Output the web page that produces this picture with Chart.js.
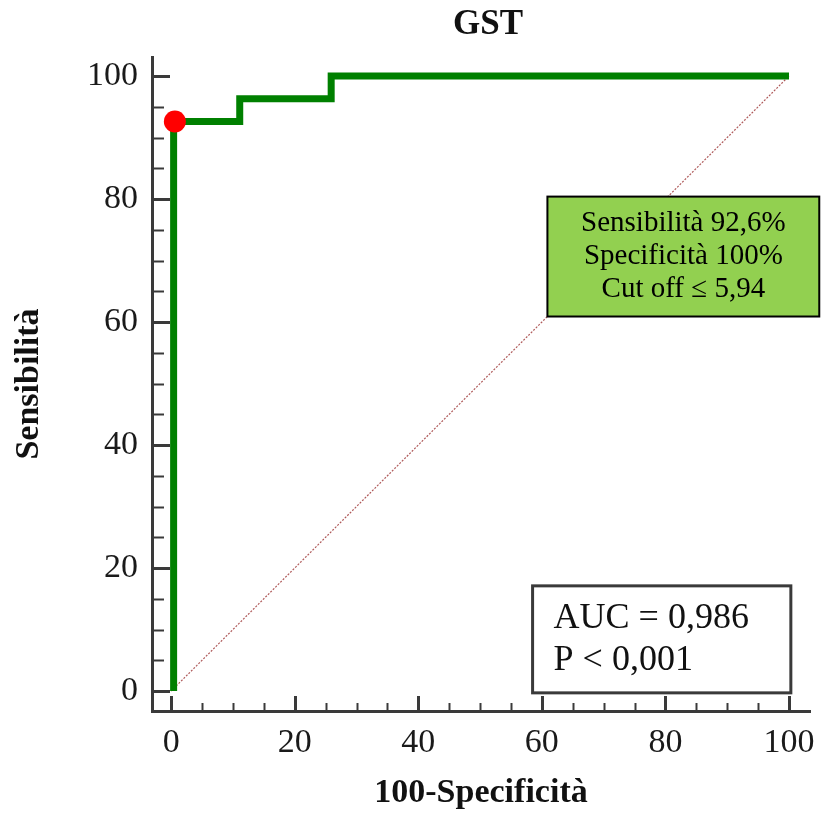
<!DOCTYPE html>
<html>
<head>
<meta charset="utf-8">
<title>GST</title>
<script src="https://cdn.jsdelivr.net/npm/chart.js@4/dist/chart.umd.min.js"></script>
<style>
  html, body { margin: 0; padding: 0; background: #fff; }
  #chart { display: block; }
</style>
</head>
<body>
<canvas id="chart" width="822" height="817"></canvas>
<script>
// ============================================================
// Data (ROC curve, GST)
// ============================================================

const chartTitle = 'GST';
const xTitle = '100-Specificità';
const yTitle = 'Sensibilità';

// ROC corners (100-Specificità, Sensibilità), drawn as a step line
const rocX = [0.4, 0.4, 11.1, 25.9, 100];
const rocY = [0, 92.6, 96.3, 100, 100];

// optimal cut-off point
const cutX = [0.6];
const cutY = [92.6];

// reference diagonal
const diagX = [0, 100];
const diagY = [0, 100];

const majorTicks = [0, 20, 40, 60, 80, 100];
const minorStep = 5;

const cutoffLines = ['Sensibilità 92,6%', 'Specificità 100%', 'Cut off \u2264 5,94'];
const aucLines = ['AUC = 0,986', 'P < 0,001'];

// ============================================================
// Helpers
// ============================================================

const SERIF = '"Liberation Serif", "Times New Roman", serif';
const AXIS_COLOR = '#3a3a3a';

function toPoints(xs, ys) {
    return xs.map((x, i) => ({ x: x, y: ys[i] }));
}

function buildTicks(scale) {
    const out = [];
    for (let i = 0; i < majorTicks.length - 1; i++) {
        for (let v = majorTicks[i]; v < majorTicks[i + 1]; v += minorStep) {
            out.push({ value: v, major: v === majorTicks[i] });
        }
    }
    out.push({ value: majorTicks[majorTicks.length - 1], major: true });
    scale.ticks = out;
}

function tickLabel(value) {
    return majorTicks.includes(value) ? String(value) : '';
}

// inward tick marks, as in the original plot
const innerTicks = {
    id: 'innerTicks',
    beforeDatasetsDraw(chart) {
        const ctx = chart.ctx;
        const area = chart.chartArea;
        const xs = chart.scales.x;
        const ys = chart.scales.y;
        ctx.save();
        ctx.strokeStyle = AXIS_COLOR;
        xs.ticks.forEach(t => {
            const px = Math.round(xs.getPixelForValue(t.value)) + 0.5;
            const len = t.major ? 15 : 8;
            ctx.lineWidth = t.major ? 3 : 2;
            ctx.beginPath();
            ctx.moveTo(px, area.bottom);
            ctx.lineTo(px, area.bottom - len);
            ctx.stroke();
        });
        ys.ticks.forEach(t => {
            const py = Math.round(ys.getPixelForValue(t.value)) + 0.5;
            const len = t.major ? 18 : 12;
            ctx.lineWidth = t.major ? 3 : 2;
            ctx.beginPath();
            ctx.moveTo(area.left, py);
            ctx.lineTo(area.left + len, py);
            ctx.stroke();
        });
        ctx.restore();
    }
};

// title plus the two text boxes
const annotations = {
    id: 'annotations',
    afterDatasetsDraw(chart) {
        const ctx = chart.ctx;
        const area = chart.chartArea;
        const xs = chart.scales.x;
        const ys = chart.scales.y;
        ctx.save();

        // title
        ctx.fillStyle = '#111';
        ctx.font = 'bold 35px ' + SERIF;
        ctx.textAlign = 'center';
        ctx.textBaseline = 'middle';
        ctx.fillText(chartTitle, (area.left + area.right) / 2 + 7, 25);

        // cut-off box (green)
        let l = xs.getPixelForValue(60.9), r = xs.getPixelForValue(104.9);
        let t = ys.getPixelForValue(80.4), b = ys.getPixelForValue(60.9);
        ctx.fillStyle = '#92d050';
        ctx.fillRect(l, t, r - l, b - t);
        ctx.strokeStyle = '#000';
        ctx.lineWidth = 2;
        ctx.strokeRect(l, t, r - l, b - t);
        ctx.fillStyle = '#000';
        ctx.font = '29px ' + SERIF;
        const cx = (l + r) / 2, cy = (t + b) / 2;
        cutoffLines.forEach((s, i) => {
            ctx.fillText(s, cx, cy + (i - 1) * 33);
        });

        // AUC box
        l = xs.getPixelForValue(58.5); r = xs.getPixelForValue(100.3);
        t = ys.getPixelForValue(17.1); b = ys.getPixelForValue(-0.3);
        ctx.fillStyle = '#fff';
        ctx.fillRect(l, t, r - l, b - t);
        ctx.strokeStyle = AXIS_COLOR;
        ctx.lineWidth = 3;
        ctx.strokeRect(l, t, r - l, b - t);
        ctx.fillStyle = '#111';
        ctx.font = '36px ' + SERIF;
        ctx.textAlign = 'left';
        ctx.textBaseline = 'alphabetic';
        aucLines.forEach((s, i) => {
            ctx.fillText(s, l + 21, t + 42 + i * 42);
        });

        ctx.restore();
    }
};

// ============================================================
// Chart
// ============================================================

new Chart(document.getElementById('chart'), {
    type: 'line',
    data: {
        datasets: [
            {
                label: 'cut-off',
                data: toPoints(cutX, cutY),
                showLine: false,
                pointRadius: 11,
                pointBackgroundColor: '#ff0000',
                pointBorderWidth: 0,
                order: 0
            },
            {
                label: 'ROC',
                data: toPoints(rocX, rocY),
                stepped: 'before',
                borderColor: '#008000',
                borderWidth: 7,
                borderCapStyle: 'butt',
                borderJoinStyle: 'miter',
                pointRadius: 0,
                fill: false,
                order: 1
            },
            {
                label: 'diagonal',
                data: toPoints(diagX, diagY),
                borderColor: 'rgba(175, 90, 90, 1)',
                borderWidth: 1.2,
                borderDash: [2, 1.5],
                pointRadius: 0,
                fill: false,
                order: 2
            }
        ]
    },
    options: {
        responsive: false,
        animation: false,
        layout: { padding: { top: 57, right: 12, left: 0, bottom: 0 } },
        plugins: {
            legend: { display: false },
            tooltip: { enabled: false },
            title: { display: false }
        },
        scales: {
            x: {
                type: 'linear',
                min: -3.1,
                max: 103.4,
                afterBuildTicks: buildTicks,
                afterFit: scale => {
                    scale.height = 106;
                    scale.paddingLeft = 0;
                    scale.paddingRight = 0;
                },
                grid: { display: false, drawTicks: false },
                border: { display: true, color: AXIS_COLOR, width: 3 },
                ticks: {
                    autoSkip: false,
                    maxRotation: 0,
                    padding: 12,
                    color: '#1a1a1a',
                    font: { family: SERIF, size: 34 },
                    callback: tickLabel
                },
                title: {
                    display: true,
                    text: xTitle,
                    color: '#111',
                    padding: 3,
                    font: { family: SERIF, size: 34, weight: 'bold' }
                }
            },
            y: {
                type: 'linear',
                min: -3.25,
                max: 103.1,
                afterBuildTicks: buildTicks,
                afterFit: scale => { scale.width = 152; },
                grid: { display: false, drawTicks: false },
                border: { display: true, color: AXIS_COLOR, width: 3 },
                ticks: {
                    autoSkip: false,
                    padding: 14,
                    color: '#1a1a1a',
                    font: { family: SERIF, size: 34 },
                    callback: tickLabel
                },
                title: {
                    display: true,
                    text: yTitle,
                    color: '#111',
                    padding: 9,
                    font: { family: SERIF, size: 34, weight: 'bold' }
                }
            }
        }
    },
    plugins: [innerTicks, annotations]
});
</script>
</body>
</html>
